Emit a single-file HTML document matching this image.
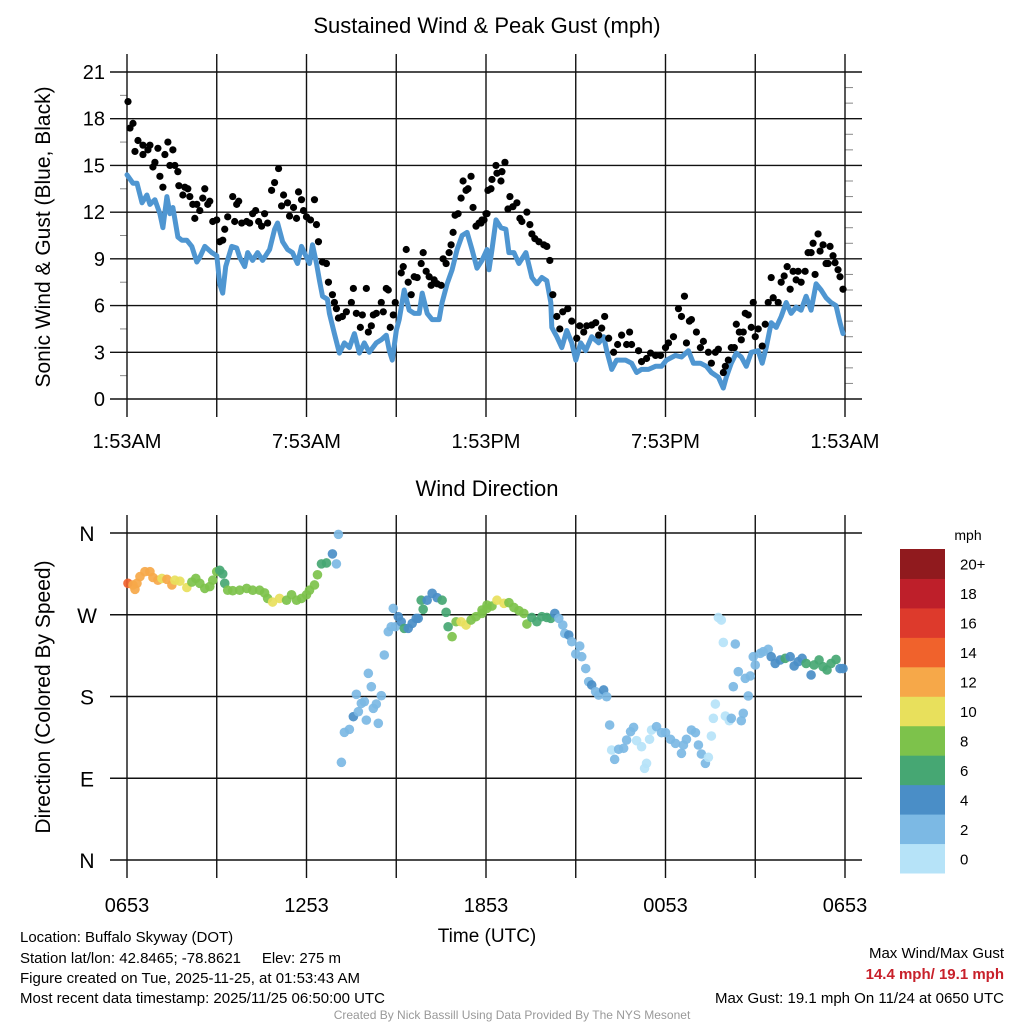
<!DOCTYPE html>
<html><head><meta charset="utf-8"><style>
html,body{margin:0;padding:0;background:#fff;overflow:hidden;}
svg{display:block;font-family:"Liberation Sans",sans-serif;}
</style></head><body>
<svg id="chart" width="1024" height="1024" viewBox="0 0 1024 1024" xmlns="http://www.w3.org/2000/svg">
<text x="487" y="33" font-size="22" text-anchor="middle">Sustained Wind &amp; Peak Gust (mph)</text>
<text x="487" y="496" font-size="22" text-anchor="middle">Wind Direction</text>
<text transform="translate(50,237) rotate(-90)" font-size="21" text-anchor="middle">Sonic Wind &amp; Gust (Blue, Black)</text>
<text transform="translate(50,697) rotate(-90)" font-size="21" text-anchor="middle">Direction (Colored By Speed)</text>
<text x="487" y="942" font-size="19" text-anchor="middle">Time (UTC)</text>
<g id="grid"></g>
<g id="wind"></g>
<g id="gust"></g>
<g id="dir"></g>
<g id="cbar"></g>
<g font-size="15">
<text x="20" y="942">Location: Buffalo Skyway (DOT)</text>
<text x="20" y="963">Station lat/lon: 42.8465; -78.8621&#160;&#160;&#160;&#160;&#160;Elev: 275 m</text>
<text x="20" y="983">Figure created on Tue, 2025-11-25, at 01:53:43 AM</text>
<text x="20" y="1003">Most recent data timestamp: 2025/11/25 06:50:00 UTC</text>
</g>
<text x="1004" y="958" font-size="15" text-anchor="end">Max Wind/Max Gust</text>
<text x="1004" y="979" font-size="15" font-weight="bold" fill="#c8202a" text-anchor="end">14.4 mph/ 19.1 mph</text>
<text x="1004" y="1003" font-size="15" text-anchor="end">Max Gust: 19.1 mph On 11/24 at 0650 UTC</text>
<text x="512" y="1019" font-size="12" fill="#999" text-anchor="middle">Created By Nick Bassill Using Data Provided By The NYS Mesonet</text>
</svg>
<script>
// [minutes since 1:53AM, mph]
const windData=[[0,14.4],[12,13.85],[20,13.85],[30,12.6],[40,13.1],[46,12.5],[56,12.8],[66,11.9],[72,11.0],[80,13.0],[86,11.9],[92,12.3],[102,10.4],[110,10.2],[120,10.2],[130,9.8],[140,8.8],[146,9.1],[156,9.8],[170,9.4],[180,9.2],[186,7.4],[192,6.8],[198,8.5],[210,9.8],[220,9.7],[226,9.1],[236,8.5],[242,9.4],[252,8.9],[262,9.4],[272,8.9],[286,9.6],[296,10.9],[302,11.3],[312,10.1],[322,9.6],[332,9.4],[342,8.7],[350,9.8],[360,9.1],[366,8.7],[372,9.9],[380,8.7],[386,7.6],[392,6.6],[402,6.4],[406,5.5],[416,4.2],[426,2.95],[436,3.6],[446,3.3],[456,4.2],[466,2.95],[476,3.6],[486,3.0],[500,3.6],[510,3.8],[520,4.1],[526,3.1],[532,2.5],[540,4.4],[546,5.1],[556,7.0],[566,5.7],[576,5.5],[586,5.5],[592,6.8],[602,5.5],[612,5.1],[626,5.1],[632,6.2],[642,7.4],[652,8.3],[662,9.6],[672,10.5],[682,10.7],[692,9.6],[702,8.4],[712,8.9],[722,9.6],[726,8.3],[732,9.6],[740,11.5],[750,11.0],[760,10.9],[766,9.4],[776,9.4],[786,8.7],[800,9.4],[812,7.8],[822,7.4],[832,7.8],[842,7.6],[850,6.2],[852,4.6],[862,4.0],[872,3.3],[882,4.4],[892,3.6],[900,2.5],[910,3.6],[920,3.1],[932,4.0],[946,3.6],[956,4.0],[962,3.1],[972,1.9],[982,2.5],[1000,2.5],[1012,2.3],[1022,1.7],[1032,1.9],[1046,1.9],[1060,2.1],[1072,2.1],[1082,2.5],[1100,2.8],[1112,2.7],[1126,3.1],[1136,2.3],[1150,2.3],[1162,2.1],[1172,1.7],[1186,1.4],[1196,0.7],[1202,1.4],[1212,2.3],[1222,2.95],[1232,2.7],[1242,2.1],[1252,3.0],[1266,3.1],[1274,2.3],[1282,3.3],[1292,4.9],[1302,4.6],[1312,5.3],[1322,6.2],[1332,5.5],[1342,5.9],[1352,5.7],[1362,6.6],[1372,5.7],[1382,7.4],[1392,7.0],[1402,6.5],[1412,6.2],[1422,6.0],[1430,4.9],[1436,4.2]];
const gustData=[[2,19.1],[6,17.4],[12,17.7],[16,15.9],[22,16.6],[32,15.7],[32,16.3],[42,16.0],[46,16.3],[52,14.9],[56,15.2],[62,16.1],[66,14.3],[72,13.6],[76,15.7],[82,16.5],[86,15.0],[92,16.0],[96,15.0],[102,14.6],[104,13.7],[112,13.1],[116,13.6],[122,13.5],[126,13.0],[132,12.5],[136,11.6],[140,12.5],[146,12.1],[152,12.9],[156,13.5],[162,12.5],[166,12.7],[172,11.4],[180,11.5],[186,10.1],[192,10.2],[196,10.9],[202,11.7],[212,13.0],[216,11.4],[220,12.5],[224,12.7],[230,11.3],[240,11.4],[246,11.3],[252,11.9],[258,12.1],[264,11.4],[270,11.1],[276,11.9],[282,11.3],[290,13.4],[296,13.9],[304,14.8],[310,12.4],[314,13.1],[322,12.6],[326,11.75],[334,12.3],[340,11.6],[344,13.3],[350,12.8],[354,12.1],[360,11.7],[368,11.5],[376,12.8],[380,11.2],[384,10.1],[392,8.8],[400,8.7],[404,7.5],[412,6.7],[416,6.2],[420,5.8],[424,5.2],[432,5.3],[440,5.6],[450,6.2],[454,7.1],[460,5.5],[468,4.6],[472,5.4],[480,7.1],[484,4.3],[490,4.7],[494,5.4],[500,5.5],[510,6.2],[514,5.6],[520,7.1],[524,7.0],[528,4.6],[534,5.4],[538,6.2],[550,8.1],[554,8.5],[560,9.6],[564,7.5],[570,6.7],[576,7.85],[582,7.8],[590,8.7],[594,9.4],[600,8.2],[606,7.85],[610,7.3],[616,7.65],[622,7.4],[630,7.3],[634,9.0],[640,8.7],[646,9.4],[650,9.9],[654,10.7],[658,11.8],[664,11.9],[670,12.9],[674,14.0],[680,13.4],[684,13.5],[690,14.3],[694,12.3],[700,11.1],[706,11.3],[712,11.5],[720,11.9],[724,13.4],[710,11.3],[716,11.5],[722,11.9],[730,13.5],[732,14.1],[740,15.0],[742,14.5],[750,14.0],[752,14.6],[758,15.2],[764,12.2],[768,13.0],[774,12.35],[782,12.6],[788,11.6],[792,11.4],[802,12.0],[808,11.2],[812,10.6],[818,10.3],[826,10.1],[836,9.9],[842,9.8],[848,8.9],[854,6.7],[862,5.3],[868,4.5],[874,5.6],[884,5.8],[892,5.0],[902,3.9],[908,4.7],[916,4.3],[922,4.7],[932,4.75],[940,4.9],[946,4.1],[952,4.55],[958,5.3],[966,3.9],[976,3.0],[984,3.5],[992,4.1],[1002,3.5],[1008,4.3],[1012,3.5],[1026,3.1],[1032,2.4],[1042,2.6],[1050,2.95],[1060,2.8],[1070,2.8],[1080,3.3],[1086,3.6],[1096,4.0],[1106,5.8],[1112,5.3],[1118,6.6],[1122,3.6],[1128,5.0],[1132,5.1],[1142,4.3],[1150,3.3],[1156,3.7],[1166,3.0],[1172,2.3],[1180,3.0],[1186,3.2],[1196,1.7],[1200,2.1],[1206,2.5],[1212,3.3],[1218,3.3],[1222,4.8],[1228,4.3],[1232,3.8],[1236,4.3],[1240,5.5],[1246,5.4],[1252,4.6],[1256,6.2],[1260,4.0],[1266,4.5],[1274,3.4],[1280,4.8],[1286,6.2],[1292,7.8],[1296,6.5],[1306,6.2],[1312,7.5],[1318,7.9],[1324,8.5],[1330,7.05],[1336,8.2],[1342,7.65],[1346,8.2],[1352,7.5],[1360,8.2],[1366,9.4],[1372,9.4],[1376,10.0],[1380,8.0],[1386,10.6],[1390,9.5],[1396,9.9],[1402,8.7],[1406,8.7],[1410,9.8],[1416,9.2],[1420,8.75],[1426,8.3],[1430,7.85],[1436,7.05]];
// [minutes since 0653 UTC, degrees]
const dirData=[[2,304.6],[12,302.8],[20,304.6],[16,298],[26,312],[36,317.4],[46,317.4],[52,311],[62,308],[70,310],[80,309],[90,302.8],[96,308],[106,307],[120,300],[130,306],[138,310],[146,304.6],[156,299],[166,301],[172,308],[180,317.4],[186,319],[192,315],[196,304.6],[202,297],[212,296.5],[226,297],[240,299],[252,297],[266,297],[276,294],[282,288],[292,284],[306,288],[320,286],[330,292],[340,286],[350,288],[360,292],[366,297],[376,302.8],[382,314],[390,326],[400,327],[412,337],[420,326],[424,358.5],[430,107.5],[436,140.5],[446,143.8],[454,157.8],[460,182.4],[464,163.3],[470,172.5],[476,174.3],[480,154],[484,205.5],[490,190.8],[494,167],[500,171.7],[504,150.5],[510,180.9],[516,225.7],[524,251.3],[530,256.8],[534,277],[538,256.8],[544,267.9],[550,262.3],[556,255],[564,255],[572,260.5],[580,266],[584,266],[590,286],[594,276],[602,286],[612,293.6],[622,288.8],[632,286],[640,272.7],[644,256.8],[652,245.8],[660,262.3],[670,262.3],[680,258.7],[690,264.2],[700,267.9],[712,271.6],[722,277],[712,275.2],[722,280.7],[732,279.6],[742,286],[756,282.6],[766,283.3],[776,278],[786,274.5],[796,271.5],[802,259.8],[812,267],[822,262.3],[832,267.9],[842,267],[850,266],[858,271.5],[866,266],[874,258.7],[878,249.4],[886,247.7],[892,240.3],[908,235.6],[900,226.8],[912,223.8],[920,210.8],[926,196.3],[932,192.7],[940,185.3],[946,181.6],[956,187.2],[962,179.8],[968,148.6],[972,121.1],[978,110.8],[986,121.9],[996,123],[1002,132.1],[1010,141.3],[1016,146],[1022,131.4],[1032,124.7],[1038,100.9],[1042,106.4],[1048,132.9],[1052,143.1],[1062,146.8],[1072,140.2],[1080,140.2],[1090,132.9],[1100,128.4],[1112,117.4],[1116,126.6],[1122,132.9],[1132,143.1],[1140,140.2],[1146,126.6],[1152,116.7],[1160,106.4],[1166,113],[1172,136.5],[1176,156],[1180,171.7],[1186,267],[1192,264.2],[1196,239.5],[1200,158.5],[1208,153.3],[1212,156],[1216,190.8],[1220,237.8],[1226,207.3],[1232,153.3],[1236,161.5],[1240,200],[1246,180.6],[1250,202.6],[1256,223.8],[1260,214.7],[1270,227.5],[1276,229.3],[1286,232],[1292,223.8],[1300,216.4],[1310,220.2],[1320,222],[1330,223.8],[1338,213.6],[1346,218.3],[1354,222],[1362,216.4],[1372,203.7],[1378,214.7],[1388,220.2],[1396,212.8],[1404,209.2],[1412,216.4],[1422,220.8],[1430,210.8],[1436,210.8]];
const topTicks=[0,3,6,9,12,15,18,21];
const topXLabels=["1:53AM","7:53AM","1:53PM","7:53PM","1:53AM"];
const botXLabels=["0653","1253","1853","0053","0653"];
const dirLabels=["N","E","S","W","N"];
const dirTicks=[0,90,180,270,360];
const cbarLabels=["0","2","4","6","8","10","12","14","16","18","20+"];
const cbarColors=["#b6e3f8","#7cb9e4","#4a8ec7","#46a773","#7dc24b","#e8e05c","#f6a849","#f0622c","#dd3a2c","#be1f2a","#901a1e"];

const NS="http://www.w3.org/2000/svg";
const X0=127,X1=845;
const xs=t=>X0+(t/1440)*(X1-X0);
const yTop=v=>399-v*(327/21);
const yDir=d=>860-d*(327/360);
function mk(tag,attrs,parent){const e=document.createElementNS(NS,tag);for(const k in attrs)e.setAttribute(k,attrs[k]);parent.appendChild(e);return e;}
const grid=document.getElementById('grid');
topTicks.forEach(v=>{
  const l=mk('line',{x1:110,x2:862,y1:yTop(v),y2:yTop(v),stroke:'#111','stroke-width':1.4},grid);
  
  
  const t=mk('text',{x:105,y:yTop(v)+7,'font-size':20,'text-anchor':'end'},grid);
  t.textContent=v;
  
  
});
for(let v=0;v<21;v+=1){
  if(v%3===0)continue;
  mk('line',{x1:845,x2:853,y1:yTop(v),y2:yTop(v),stroke:'#888','stroke-width':1},grid);
}
for(let v=1.5;v<21;v+=3){mk('line',{x1:120,x2:127,y1:yTop(v),y2:yTop(v),stroke:'#888','stroke-width':1},grid);}
for(let i=0;i<=8;i++){
  const x=X0+i*(X1-X0)/8;
  const l=mk('line',{x1:x,x2:x,y1:54,y2:417,stroke:'#111','stroke-width':1.4},grid);
  
  
  const l2=mk('line',{x1:x,x2:x,y1:515,y2:878,stroke:'#111','stroke-width':1.4},grid);
  
  
}
topXLabels.forEach((s,i)=>{
  const t=mk('text',{x:X0+i*(X1-X0)/4,y:448,'font-size':20,'text-anchor':'middle'},grid);
  t.textContent=s;
  
  
});
botXLabels.forEach((s,i)=>{
  const t=mk('text',{x:X0+i*(X1-X0)/4,y:912,'font-size':20,'text-anchor':'middle'},grid);
  t.textContent=s;
  
  
});
dirTicks.forEach((d,i)=>{
  const l=mk('line',{x1:110,x2:862,y1:yDir(d),y2:yDir(d),stroke:'#111','stroke-width':1.4},grid);
  
  
  const t=mk('text',{x:87,y:yDir(d)+8,'font-size':21,'text-anchor':'middle'},grid);
  t.textContent=dirLabels[i];
  
  
});
let dpath='';
windData.forEach((p,i)=>{dpath+=(i?'L':'M')+xs(p[0]).toFixed(1)+','+yTop(p[1]).toFixed(1);});
const wl=mk('path',{d:dpath,fill:'none',stroke:'#4f96d1','stroke-width':5,'stroke-linejoin':'round','stroke-linecap':'round'},document.getElementById('wind'));


const gg=document.getElementById('gust');
gustData.forEach(p=>{
  const c=mk('circle',{cx:xs(p[0]),cy:yTop(p[1]),r:3.6,fill:'#000'},gg);
  
  
});
function windAt(t){
  for(let i=1;i<windData.length;i++){if(windData[i][0]>=t){const a=windData[i-1],b=windData[i];const f=(t-a[0])/((b[0]-a[0])||1);return a[1]+f*(b[1]-a[1]);}}
  return windData[windData.length-1][1];
}
const dg=document.getElementById('dir');
dirData.forEach(p=>{
  const s=windAt(p[0]);
  const idx=Math.min(10,Math.max(0,Math.floor(s/2)));
  const c=mk('circle',{cx:xs(p[0]),cy:yDir(p[1]),r:4.8,fill:cbarColors[idx],'fill-opacity':0.92},dg);
  
  
});
const cb=document.getElementById('cbar');
const mt=mk('text',{x:968,y:540,'font-size':14,'text-anchor':'middle'},cb);
mt.textContent='mph';


const bh=324/11;
cbarColors.forEach((col,i)=>{
  const y=873-(i+1)*bh;
  const r=mk('rect',{x:900,y:y,width:45,height:bh+0.5,fill:col},cb);
  
  
  const t=mk('text',{x:960,y:y+bh/2+6,'font-size':15},cb);
  t.textContent=cbarLabels[i];
  
  
});
</script>
</body></html>
